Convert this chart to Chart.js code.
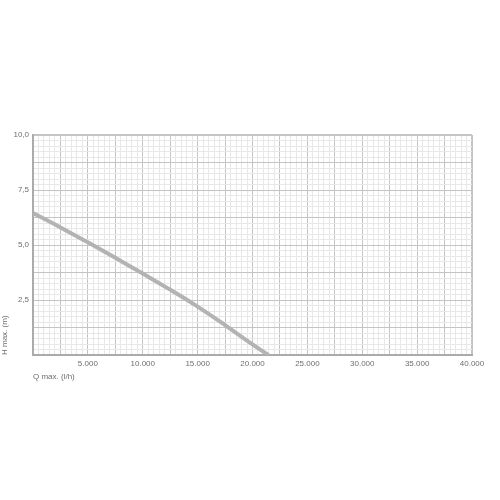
<!DOCTYPE html>
<html><head><meta charset="utf-8">
<script src="https://cdn.jsdelivr.net/npm/chart.js@4/dist/chart.umd.min.js"></script>
<style>html,body{margin:0;padding:0;background:#fff}#wrap{width:500px;height:500px}</style>
</head><body><div id="wrap"><canvas id="c" width="500" height="500"></canvas></div>
<script>
const flowQ = [0, 2500, 5000, 7500, 10000, 12500, 15000, 17500, 20000, 21450];
const headH = [6.45, 5.8, 5.12, 4.42, 3.70, 2.97, 2.20, 1.36, 0.48, 0];
const xLabelEvery = 5000;
const yLabelEvery = 2.5;
const xTitle = 'Q max. (l/h)';
const yTitle = 'H max. (m)';

const fmtX = v => Math.round(v).toLocaleString('de-DE');
const fmtY = v => v.toFixed(1).replace('.', ',');
const near = (v, m) => Math.abs(v / m - Math.round(v / m)) < 1e-6;

new Chart(document.getElementById('c'), {
  type: 'line',
  data: {
    datasets: [{
      data: flowQ.map((q, i) => ({x: q, y: headH[i]})),
      borderColor: '#b3b3b3',
      borderWidth: 4,
      pointRadius: 0,
      fill: false,
      tension: 0.4
    }]
  },
  options: {
    responsive: false,
    animation: false,
    layout: {padding: {top: 135, right: 28, bottom: 118, left: 0}},
    plugins: {legend: {display: false}, tooltip: {enabled: false}},
    scales: {
      x: {
        type: 'linear', min: 0, max: 40000,
        afterBuildTicks(s) { const t = []; for (let v = 0; v <= 40000; v += 500) t.push({value: v}); s.ticks = t; },
        afterFit(s) { s.height = 27; },
        ticks: {
          autoSkip: false, maxRotation: 0, padding: 4,
          color: '#6e6e6e', font: {family: 'Liberation Sans', size: 8},
          callback: v => (v > 0 && near(v, xLabelEvery)) ? fmtX(v) : ''
        },
        grid: {
          drawTicks: false,
          color: c => near(c.tick.value, 2500) ? '#c4c4c4' : '#e8e8e8',
          lineWidth: c => (c.tick.value === 0 || c.tick.value === 40000) ? 2 : 1
        },
        border: {display: true, color: '#ababab', width: 2},
        title: {display: true, text: xTitle, align: 'start', color: '#6e6e6e',
          font: {family: 'Liberation Sans', size: 8}, padding: {top: 2, bottom: 0}}
      },
      y: {
        type: 'linear', min: 0, max: 10,
        afterBuildTicks(s) { const t = []; for (let i = 0; i <= 40; i++) t.push({value: i * 0.25}); s.ticks = t; },
        afterFit(s) { s.width = 33; },
        ticks: {
          autoSkip: false, padding: 4,
          color: '#6e6e6e', font: {family: 'Liberation Sans', size: 8},
          callback: v => (v > 0 && near(v, yLabelEvery)) ? fmtY(v) : ''
        },
        grid: {
          drawTicks: false,
          color: c => near(c.tick.value, 1.25) ? '#c4c4c4' : '#e8e8e8',
          lineWidth: c => (c.tick.value === 10) ? 2 : 1
        },
        border: {display: true, color: '#ababab', width: 2},
        title: {display: true, text: yTitle, align: 'start', color: '#6e6e6e',
          font: {family: 'Liberation Sans', size: 8}, padding: {top: 0, bottom: 4}}
      }
    }
  }
});
</script></body></html>
